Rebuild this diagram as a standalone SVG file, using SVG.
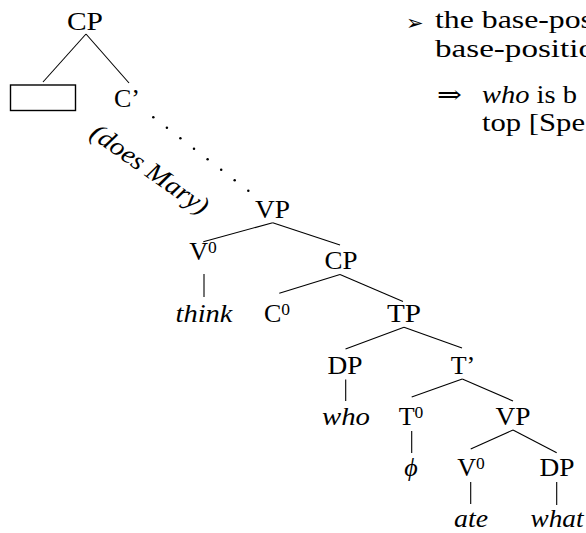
<svg xmlns="http://www.w3.org/2000/svg" width="586" height="533" viewBox="0 0 586 533">
<style>
  text { font-family: "Liberation Serif", "DejaVu Serif", serif; fill: #000; }
  .n { font-size: 26px; text-anchor: middle; }
  .it { font-style: italic; }
  .sup { font-size: 17.5px; }
  .r { font-size: 25px; }
  .edge { stroke: #000; stroke-width: 1.1; fill: none; }
  .dot { fill: #000; }
</style>
<rect width="586" height="533" fill="#fff"/>
<g id="connectors">
  <line class="edge" x1="86" y1="34" x2="43" y2="82"/>
  <line class="edge" x1="86" y1="34" x2="129" y2="83"/>
  <g id="dotted">
    <circle class="dot" cx="153.3" cy="117.3" r="1.25"/>
    <circle class="dot" cx="166.9" cy="127.8" r="1.25"/>
    <circle class="dot" cx="180.4" cy="138.3" r="1.25"/>
    <circle class="dot" cx="194.0" cy="148.8" r="1.25"/>
    <circle class="dot" cx="207.6" cy="159.3" r="1.25"/>
    <circle class="dot" cx="221.2" cy="169.7" r="1.25"/>
    <circle class="dot" cx="234.7" cy="180.2" r="1.25"/>
    <circle class="dot" cx="248.3" cy="190.7" r="1.25"/>
  </g>
  <line class="edge" x1="272.7" y1="222.7" x2="203.3" y2="241.7"/>
  <line class="edge" x1="272.7" y1="222.7" x2="340" y2="245"/>
  <line class="edge" x1="204" y1="274" x2="204" y2="297"/>
  <line class="edge" x1="340" y1="274.5" x2="279.3" y2="293.3"/>
  <line class="edge" x1="340" y1="274.5" x2="403" y2="301.5"/>
  <line class="edge" x1="404" y1="327.3" x2="345.5" y2="349"/>
  <line class="edge" x1="404" y1="327.3" x2="462" y2="348"/>
  <line class="edge" x1="345.7" y1="379.5" x2="345.7" y2="401"/>
  <line class="edge" x1="462.3" y1="379" x2="411.7" y2="397"/>
  <line class="edge" x1="462.3" y1="379" x2="513" y2="401"/>
  <line class="edge" x1="411.7" y1="431" x2="411.7" y2="453"/>
  <line class="edge" x1="513" y1="430" x2="470.7" y2="449"/>
  <line class="edge" x1="513" y1="430" x2="556.7" y2="452.7"/>
  <line class="edge" x1="470.7" y1="482" x2="470.7" y2="504"/>
  <line class="edge" x1="556.7" y1="482" x2="556.7" y2="505"/>
</g>
<g id="n-cp-root"><text class="n" x="85" y="30" textLength="36" lengthAdjust="spacingAndGlyphs">CP</text></g>
<g id="n-box"><rect x="10.5" y="85" width="65" height="25.5" fill="none" stroke="#000" stroke-width="1.4"/></g>
<g id="n-cbar"><text class="n" x="127" y="107">C’</text></g>
<g id="n-does-mary"><text class="n it" transform="translate(145,176) rotate(35)" x="0" y="0" textLength="138" lengthAdjust="spacingAndGlyphs">(does Mary)</text></g>
<g id="n-vp1"><text class="n" x="272.5" y="218" textLength="35" lengthAdjust="spacingAndGlyphs">VP</text></g>
<g id="n-v0-1"><text class="n" x="203" y="260">V<tspan class="sup" dy="-7">0</tspan></text></g>
<g id="n-think"><text class="n it" x="204" y="322" textLength="57" lengthAdjust="spacingAndGlyphs">think</text></g>
<g id="n-cp2"><text class="n" x="341" y="269" textLength="33" lengthAdjust="spacingAndGlyphs">CP</text></g>
<g id="n-c0"><text class="n" x="277" y="322">C<tspan class="sup" dy="-7">0</tspan></text></g>
<g id="n-tp"><text class="n" x="404" y="322" textLength="34" lengthAdjust="spacingAndGlyphs">TP</text></g>
<g id="n-dp1"><text class="n" x="345" y="374" textLength="35" lengthAdjust="spacingAndGlyphs">DP</text></g>
<g id="n-who"><text class="n it" x="346" y="425" textLength="48" lengthAdjust="spacingAndGlyphs">who</text></g>
<g id="n-tbar"><text class="n" x="463" y="374">T’</text></g>
<g id="n-t0"><text class="n" x="411" y="425">T<tspan class="sup" dy="-7">0</tspan></text></g>
<g id="n-phi"><text class="n it" x="411" y="476">ϕ</text></g>
<g id="n-vp2"><text class="n" x="513" y="425" textLength="35" lengthAdjust="spacingAndGlyphs">VP</text></g>
<g id="n-v0-2"><text class="n" x="471" y="476">V<tspan class="sup" dy="-7">0</tspan></text></g>
<g id="n-ate"><text class="n it" x="471" y="527" textLength="34" lengthAdjust="spacingAndGlyphs">ate</text></g>
<g id="n-dp2"><text class="n" x="557" y="476" textLength="35" lengthAdjust="spacingAndGlyphs">DP</text></g>
<g id="n-what"><text class="n it" x="557" y="527" textLength="53" lengthAdjust="spacingAndGlyphs">what</text></g>
<g id="side-text">
  <text x="406" y="30" style="font-family:'DejaVu Sans',sans-serif;font-size:21px">➢</text>
  <text class="r" x="435" y="28" textLength="158" lengthAdjust="spacingAndGlyphs">the base-pos</text>
  <text class="r" x="435" y="57" textLength="160" lengthAdjust="spacingAndGlyphs">base-positio</text>
  <text class="r" x="437" y="103" textLength="25" lengthAdjust="spacingAndGlyphs">⇒</text>
  <text class="r" x="482" y="103" textLength="95" lengthAdjust="spacingAndGlyphs"><tspan class="it">who</tspan> is b</text>
  <text class="r" x="482" y="131" textLength="103" lengthAdjust="spacingAndGlyphs">top [Spe</text>
</g>
</svg>
